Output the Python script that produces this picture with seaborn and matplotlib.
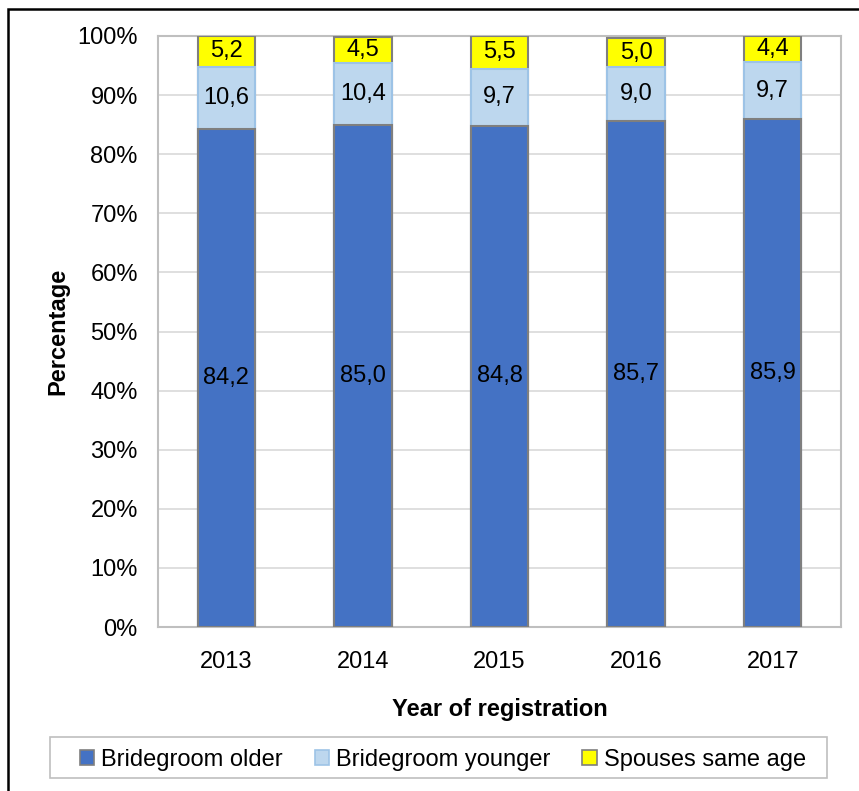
import matplotlib
matplotlib.use("Agg")
import matplotlib.pyplot as plt
import seaborn as sns
import numpy as np
from matplotlib.patches import Rectangle, Patch

years = ["2013", "2014", "2015", "2016", "2017"]
older = [84.2, 85.0, 84.8, 85.7, 85.9]
younger = [10.6, 10.4, 9.7, 9.0, 9.7]
same = [5.2, 4.5, 5.5, 5.0, 4.4]
series_names = ["Bridegroom older", "Bridegroom younger", "Spouses same age"]
colors = ["#4472C4", "#BDD7EE", "#FFFF00"]
edgecols = ["#7f7f7f", "#9DC3E6", "#7f7f7f"]

sns.set_theme(style="white")
plt.rcParams['font.family'] = ['Liberation Sans', 'DejaVu Sans']
plt.rcParams.update({"text.color": "black", "axes.labelcolor": "black",
                     "xtick.color": "black", "ytick.color": "black"})

W, H = 859, 791
fig = plt.figure(figsize=(W/100, H/100), dpi=100)
ax = fig.add_axes([158/W, 1 - 627/H, (841-158)/W, (627-36)/H])

cum = [np.array(older), np.array(older) + np.array(younger),
       np.array(older) + np.array(younger) + np.array(same)]
for i in [2, 1, 0]:
    sns.barplot(x=years, y=cum[i], color=colors[i], ax=ax, width=0.42,
                edgecolor=edgecols[i], linewidth=1.5, saturation=1, order=years, zorder=3)

FS = 17
xs = np.arange(len(years))
for j in range(len(years)):
    ax.text(xs[j], older[j] / 2, f"{older[j]:.1f}".replace(".", ","), ha="center", va="center",
            fontsize=FS, color="black", zorder=5)
    ax.text(xs[j], older[j] + younger[j] / 2, f"{younger[j]:.1f}".replace(".", ","), ha="center",
            va="center", fontsize=FS, color="black", zorder=5)
    ax.text(xs[j], older[j] + younger[j] + same[j] / 2, f"{same[j]:.1f}".replace(".", ","),
            ha="center", va="center", fontsize=FS, color="black", zorder=5)

ax.set_ylim(0, 100)
ax.set_xlim(-0.5, len(years) - 0.5)
ax.set_yticks(np.arange(0, 101, 10))
ax.set_yticklabels([f"{v}%" for v in range(0, 101, 10)], fontsize=FS)
ax.tick_params(axis="x", labelsize=FS, length=0, pad=17, colors="black")
ax.tick_params(axis="y", length=0, pad=14.5, colors="black")
ax.yaxis.grid(True, color="#d9d9d9", linewidth=1.2, zorder=0)
ax.set_axisbelow(True)
for s in ax.spines.values():
    s.set_color("#bfbfbf")
    s.set_linewidth(1.5)
ax.set_xlabel("Year of registration", fontsize=FS, fontweight="bold", labelpad=18, color="black")
ax.set_ylabel("Percentage", fontsize=FS, fontweight="bold", labelpad=6, color="black")

handles = [Patch(facecolor=colors[i], edgecolor=edgecols[i], linewidth=1.2) for i in range(3)]
leg = fig.legend(handles, series_names, loc="center", bbox_to_anchor=(443/W, 1 - 760/H),
                 ncol=3, fontsize=FS, frameon=False, handlelength=0.6,
                 handleheight=0.6, handletextpad=0.3, columnspacing=1.35,
                 borderpad=0.0, labelcolor="black")
fig.patches.append(Rectangle((50/W, 1 - 778/H), (827-50)/W, (778-737)/H, transform=fig.transFigure,
                             fill=False, edgecolor="#bfbfbf", linewidth=1.2))

fig.patches.append(Rectangle((8/W, -0.05), 1.1, 1 - 9/H + 0.05, transform=fig.transFigure,
                             fill=False, edgecolor="black", linewidth=1.8))

fig.savefig("out.png", dpi=100)
